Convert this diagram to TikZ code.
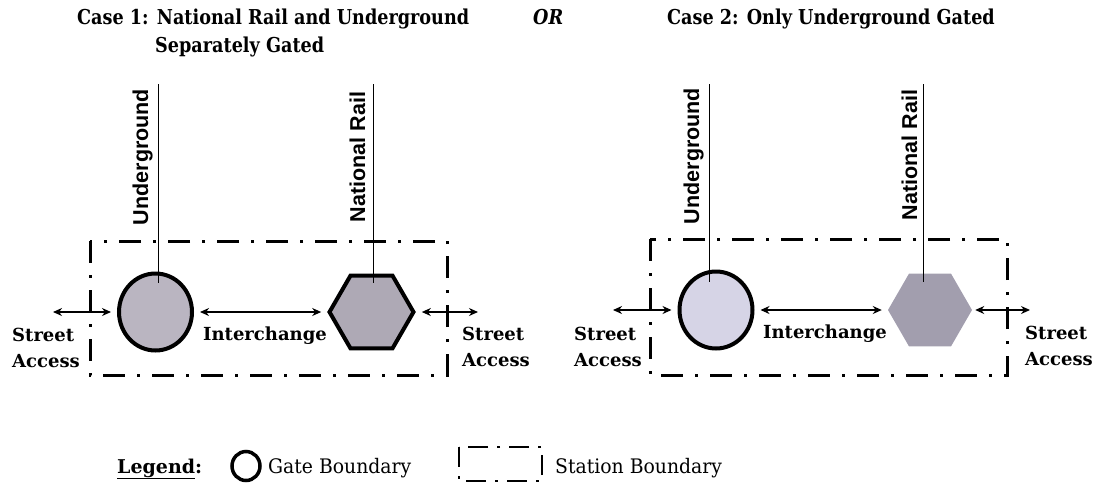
\documentclass[tikz,border=0pt]{standalone}
\usepackage{fontspec}
\setmainfont{DejaVu Serif}
\newfontfamily\titelschrift{DejaVu Serif}[FakeStretch=0.86]
\newfontfamily\legendenschrift{DejaVu Serif}[FakeStretch=0.94]
\newfontfamily\linienschrift{Liberation Sans}
\usetikzlibrary{shapes.geometric,arrows.meta}

\definecolor{gatefillA}{RGB}{186,181,193}
\definecolor{hexfillA}{RGB}{174,169,181}
\definecolor{gatefillB}{RGB}{214,212,230}
\definecolor{hexfillB}{RGB}{162,158,174}

\tikzset{
  gate/.style={ellipse,draw,line width=4pt,minimum width=73pt,minimum height=77pt,inner sep=0pt},
  hexa/.style={regular polygon,regular polygon sides=6,minimum size=84pt,inner sep=0pt},
  station/.style={line width=3pt,dash pattern=on 22pt off 12pt on 3pt off 12pt},
  weg/.style={<->,line width=1.4pt,shorten <=6pt,shorten >=6pt},
  linienname/.style={rotate=90,anchor=base,font=\linienschrift\bfseries\fontsize{21.5}{24}\selectfont},
  zugang/.style={anchor=west,align=left,inner sep=0pt,font=\bfseries\fontsize{18}{26}\selectfont},
  titel/.style={anchor=base west,inner sep=0pt,font=\titelschrift\bfseries\fontsize{20.5}{24}\selectfont},
  legtext/.style={anchor=base west,inner sep=0pt,font=\legendenschrift\fontsize{20}{24}\selectfont}
}

\begin{document}
\begin{tikzpicture}[x=1pt,y=-1pt,>={Stealth[length=9pt,width=8pt]}]
  \useasboundingbox (0,0) rectangle (1096,483);
  % Ueberschriften
  \node[titel] (titelA) at (77,24) {Case 1: National Rail and Underground};
  \node[titel] (titelAb) at (155,52) {Separately Gated};
  \node[titel,font=\titelschrift\bfseries\itshape\fontsize{20.5}{24}\selectfont] (oder) at (533,24) {OR};
  \node[titel] (titelB) at (667,24) {Case 2: Only Underground Gated};

  % Fall 1
  \draw[station] (90,241) rectangle (447,375);
  \node[gate,fill=gatefillA] (ugA) at (155.5,312) {};
  \node[hexa,draw,line width=4pt,fill=hexfillA] (nrA) at (371.5,312) {};
  \coordinate (ugAoben) at (158,84); \coordinate (ugAunten) at (158,283);
  \coordinate (nrAoben) at (373,84); \coordinate (nrAunten) at (373,283);
  \draw[line width=0.8pt] (ugAoben) -- (ugAunten) (nrAoben) -- (nrAunten);
  \node[linienname] (ugAname) at (148,157) {Underground};
  \node[linienname] (nrAname) at (365,157) {National Rail};
  \coordinate (strAl) at (53,312); \coordinate (strAr) at (478,312);
  \draw[weg,shorten <=0pt] (strAl) -- (ugA.west);
  \draw[weg] (ugA.east) -- (nrA.west);
  \draw[weg,shorten >=0pt] (nrA.east) -- (strAr);
  \node[zugang] (zugAl) at (12,348) {Street\\Access};
  \node[zugang] (zugAr) at (462,347) {Street\\Access};
  \node[titel,font=\bfseries\fontsize{18}{26}\selectfont] (wechselA) at (203,340) {Interchange};

  % Fall 2
  \draw[station] (650,239) rectangle (1007,375);
  \node[gate,fill=gatefillB] (ugB) at (716,310) {};
  \node[hexa,fill=hexfillB] (nrB) at (930,310) {};
  \coordinate (ugBoben) at (709,84); \coordinate (ugBunten) at (709,282);
  \coordinate (nrBoben) at (923,84); \coordinate (nrBunten) at (923,282);
  \draw[line width=0.8pt] (ugBoben) -- (ugBunten) (nrBoben) -- (nrBunten);
  \node[linienname] (ugBname) at (699,156) {Underground};
  \node[linienname] (nrBname) at (917,155) {National Rail};
  \coordinate (strBl) at (613,310); \coordinate (strBr) at (1030,310);
  \draw[weg,shorten <=0pt] (strBl) -- (ugB.west);
  \draw[weg] (ugB.east) -- (nrB.west);
  \draw[weg,shorten >=0pt,shorten <=3pt] (nrB.east) -- (strBr);
  \node[zugang] (zugBl) at (574,347) {Street\\Access};
  \node[zugang] (zugBr) at (1025,346) {Street\\Access};
  \node[titel,font=\bfseries\fontsize{18}{26}\selectfont] (wechselB) at (763,338) {Interchange};

  % Legende
  \node[titel,font=\bfseries\fontsize{19}{24}\selectfont] (legende) at (117,473) {\underline{Legend}:};
  \node[ellipse,draw,line width=3.5pt,minimum width=28pt,minimum height=29pt,inner sep=0pt] (gateleg) at (246,466) {};
  \node[legtext] (gatetext) at (268,473) {Gate Boundary};
  \draw[station,line width=2.5pt,dash pattern=on 20pt off 9pt on 3pt off 9pt] (459,447) rectangle (542,481);
  \node[legtext] (stationtext) at (555,473) {Station Boundary};
\end{tikzpicture}
\end{document}
